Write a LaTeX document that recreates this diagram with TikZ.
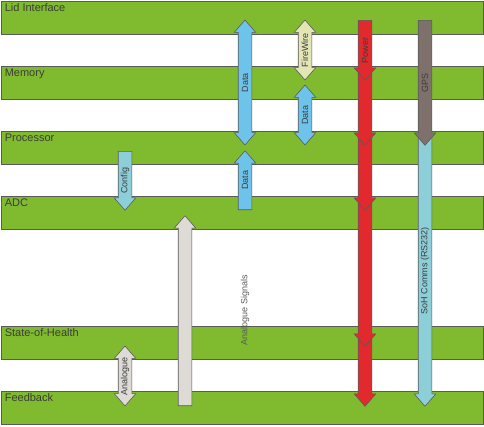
\documentclass[tikz,border=0pt]{standalone}
\usepackage{fontspec}
\setmainfont{Liberation Sans}
\usetikzlibrary{shapes.arrows,calc}
\definecolor{bandgreen}{RGB}{128,187,47}
\definecolor{bandline}{RGB}{90,90,90}
\definecolor{datablue}{RGB}{110,195,235}
\definecolor{fwcream}{RGB}{227,229,181}
\definecolor{powerred}{RGB}{226,41,46}
\definecolor{gpsbrown}{RGB}{126,113,107}
\definecolor{sohteal}{RGB}{141,207,217}
\definecolor{anagray}{RGB}{222,219,214}
\definecolor{labelgray}{RGB}{60,60,60}
\tikzset{
  band/.style={draw=bandline,fill=bandgreen,line width=0.8pt,minimum width=482pt,minimum height=33pt,inner sep=0pt},
  bandlabel/.style={anchor=north west,inner sep=0pt,xshift=4pt,yshift=-3pt,font=\fontsize{11}{13}\selectfont,text=labelgray},
  onearrow/.style={single arrow,draw=bandline,line width=0.6pt,single arrow head extend=4pt,single arrow tip angle=82,inner xsep=0pt,inner ysep=6.5pt,anchor=tail},
  uparrow/.style={onearrow,rotate=90},
  downarrow/.style={onearrow,rotate=-90},
  bothways/.style={double arrow,draw=bandline,line width=0.6pt,double arrow head extend=4pt,double arrow tip angle=82,inner xsep=0pt,inner ysep=6.5pt,rotate=90},
  arrowtext/.style={rotate=90,font=\fontsize{9}{10}\selectfont,text=labelgray,inner sep=0pt},
}
\begin{document}
\begin{tikzpicture}[x=1pt,y=-1pt]
  \useasboundingbox (0,0) rectangle (484,426);
  % layers
  \node[band,label={[bandlabel]north west:Lid Interface}]    (lid)  at (242,17.5)  {};
  \node[band,label={[bandlabel]north west:Memory}]           (mem)  at (242,82.5)  {};
  \node[band,label={[bandlabel]north west:Processor}]        (proc) at (242,147.5) {};
  \node[band,label={[bandlabel]north west:ADC}]              (adc)  at (242,212.5) {};
  \node[band,label={[bandlabel]north west:State-of-Health}]  (soh)  at (242,342.5) {};
  \node[band,label={[bandlabel]north west:Feedback}]         (fb)   at (242,407.5) {};
  % data paths
  \node[bothways,fill=datablue,minimum height=125pt] (datamem) at (245,82.5) {};
  \node[arrowtext] at (datamem.center) {Data};
  \node[bothways,fill=fwcream,minimum height=60pt] (fw) at (305,50) {};
  \node[arrowtext] at (fw.center) {FireWire};
  \node[bothways,fill=datablue,minimum height=60pt] (dataproc) at (305,115) {};
  \node[arrowtext] at (dataproc.center) {Data};
  \node[downarrow,fill=sohteal,minimum height=59pt] (cfg) at (125,151) {};
  \node[arrowtext] at ($(cfg.tail)!0.5!(cfg.tip)$) {Config};
  \node[uparrow,fill=datablue,minimum height=59pt] (dataadc) at (245,210) {};
  \node[arrowtext] at ($(dataadc.tail)!0.5!(dataadc.tip)$) {Data};
  % analogue side
  \node[uparrow,fill=anagray,minimum height=190pt] (sig) at (185,406) {};
  \node[arrowtext,text=bandline] (sigtext) at (245,310) {Analogue Signals};
  \node[bothways,fill=anagray,minimum height=60pt] (ana) at (125,376) {};
  \node[arrowtext] at (ana.center) {Analogue};
  % power, drawn bottom up so each head sits on the next shaft
  \foreach \tl/\tp [count=\i] in {334/406,198/346,133/210,68/145}
    \node[downarrow,fill=powerred,minimum height=\tp-\tl] (pwr\i) at (365,\tl) {};
  \node[downarrow,fill=powerred,minimum height=60pt] (pwr) at (365,20) {};
  \node[arrowtext] at ($(pwr.tail)!0.5!(pwr.tip)$) {Power};
  % gps and soh comms
  \node[downarrow,fill=sohteal,minimum height=271pt] (rs) at (425,135) {};
  \node[arrowtext] at ($(rs.tail)!0.5!(rs.tip)$) {SoH Comms (RS232)};
  \node[downarrow,fill=gpsbrown,minimum height=125pt] (gps) at (425,20) {};
  \node[arrowtext] at ($(gps.tail)!0.5!(gps.tip)$) {GPS};
\end{tikzpicture}
\end{document}
